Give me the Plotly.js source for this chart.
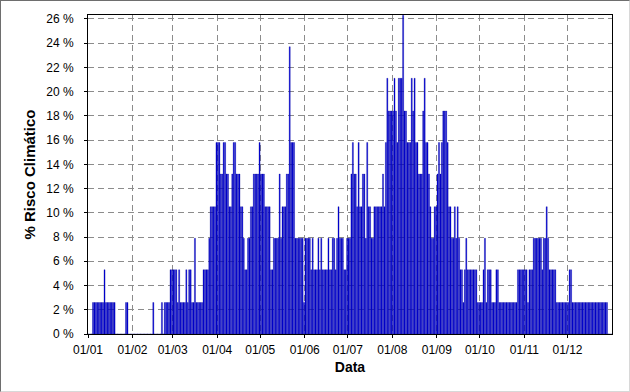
<!DOCTYPE html>
<html>
<head>
<meta charset="utf-8">
<script src="https://cdn.plot.ly/plotly-3.0.1.min.js"></script>
<style>
html,body{margin:0;padding:0;background:#fff;}
#wrap{width:630px;height:392px;box-sizing:border-box;border-top:1px solid #6e6e6e;border-left:1px solid #6e6e6e;border-right:1px solid #d8d8d8;border-bottom:1px solid #d8d8d8;overflow:hidden;}
#chart{width:628px;height:390px;}
</style>
</head>
<body>
<div id="wrap"><div id="chart"></div></div>
<script>
// Daily climatic risk (%) per month
const jan = [0,0,0,2.6,2.6,2.6,2.6,2.6,2.6,2.6,2.6,5.3,2.6,2.6,2.6,2.6,2.6,2.6,2.6,0,0,0,0,0,0,0,2.6,2.6,0,0,0];
const feb = [0,0,0,0,0,0,0,0,0,0,0,0,0,0,2.6,0,0,0,0,0,2.6,0,2.6,2.6,2.6,2.6,5.3,5.3];
const mar = [5.3,5.3,5.3,2.6,5.3,2.6,2.6,2.6,2.6,5.3,2.6,5.3,5.3,2.6,2.6,7.9,2.6,2.6,2.6,2.6,2.6,5.3,5.3,5.3,5.3,7.9,10.5,10.5,10.5,10.5,15.8];
const apr = [15.8,15.8,13.2,13.2,15.8,15.8,13.2,13.2,10.5,10.5,13.2,15.8,15.8,13.2,13.2,13.2,10.5,10.5,7.9,5.3,5.3,7.9,7.9,10.5,10.5,13.2,13.2,13.2,13.2,15.8];
const may = [13.2,13.2,13.2,10.5,10.5,10.5,10.5,5.3,5.3,7.9,7.9,7.9,7.9,13.2,7.9,10.5,10.5,10.5,13.2,13.2,23.7,15.8,15.8,15.8,7.9,7.9,7.9,7.9,7.9,7.9,2.6];
const jun = [7.9,7.9,7.9,7.9,5.3,7.9,5.3,5.3,5.3,7.9,5.3,7.9,5.3,5.3,5.3,5.3,7.9,5.3,5.3,7.9,7.9,5.3,7.9,10.5,7.9,7.9,7.9,5.3,5.3,7.9];
const jul = [7.9,7.9,13.2,15.8,13.2,13.2,10.5,15.8,10.5,10.5,13.2,13.2,7.9,15.8,10.5,10.5,7.9,7.9,10.5,10.5,10.5,10.5,10.5,10.5,13.2,10.5,15.8,21.1,18.4,18.4,18.4];
const aug = [18.4,21.1,18.4,15.8,21.1,21.1,21.1,26.3,18.4,18.4,15.8,15.8,15.8,21.1,18.4,21.1,15.8,15.8,13.2,13.2,13.2,18.4,21.1,15.8,15.8,13.2,10.5,7.9,7.9,10.5,10.5];
const sep = [13.2,15.8,13.2,15.8,18.4,18.4,18.4,15.8,10.5,10.5,7.9,7.9,10.5,7.9,10.5,7.9,5.3,5.3,2.6,5.3,7.9,5.3,5.3,5.3,5.3,5.3,5.3,5.3,2.6,2.6];
const oct = [2.6,2.6,5.3,7.9,2.6,5.3,5.3,5.3,2.6,2.6,2.6,5.3,5.3,2.6,2.6,2.6,2.6,2.6,2.6,2.6,2.6,2.6,2.6,2.6,2.6,2.6,5.3,5.3,5.3,5.3,5.3];
const nov = [5.3,5.3,2.6,5.3,5.3,5.3,7.9,7.9,7.9,7.9,7.9,7.9,5.3,7.9,7.9,10.5,7.9,5.3,5.3,5.3,5.3,5.3,2.6,2.6,2.6,2.6,2.6,2.6,2.6,2.6];
const dec = [2.6,5.3,5.3,2.6,2.6,2.6,2.6,2.6,2.6,2.6,2.6,2.6,2.6,2.6,2.6,2.6,2.6,2.6,2.6,2.6,2.6,2.6,2.6,2.6,2.6,2.6,2.6,2.6,0,0,0];

const monthLabels = ["01/01","01/02","01/03","01/04","01/05","01/06","01/07","01/08","01/09","01/10","01/11","01/12"];
const months = [jan,feb,mar,apr,may,jun,jul,aug,sep,oct,nov,dec];
const yTicks = [0,2,4,6,8,10,12,14,16,18,20,22,24,26];
const yLabels = ["0 %","2 %","4 %","6 %","8 %","10 %","12 %","14 %","16 %","18 %","20 %","22 %","24 %","26 %"];

const values = [].concat(...months);
const days = values.map((v,i)=>i+0.5);
const monthStarts = [];
let acc = 0;
months.forEach(m=>{monthStarts.push(acc); acc += m.length;});

const font = "'Liberation Sans', Arial, sans-serif";

Plotly.newPlot('chart', [{
  type:'bar', x: days, y: values,
  marker:{color:'#0000e0', line:{color:'#00008b', width:0.3}},
  hoverinfo:'x+y'
}], {
  width:628, height:390,
  margin:{l:87, r:17, t:14, b:57},
  paper_bgcolor:'#ffffff', plot_bgcolor:'#ffffff',
  bargap:0.25,
  showlegend:false,
  font:{family:font, size:12, color:'#000'},
  xaxis:{
    range:[0,365], tickmode:'array', tickvals:monthStarts, ticktext:monthLabels,
    showgrid:true, gridcolor:'#8c8c8c', griddash:'6px,4px', gridwidth:1,
    showline:true, mirror:true, linecolor:'#000', linewidth:1,
    ticks:'outside', ticklen:3, tickcolor:'#000', zeroline:false,
    ticklabelstandoff:2,
    tickfont:{family:font, size:12, color:'#000'},
    title:{text:'<b>Data</b>', font:{family:font, size:14, color:'#000'}, standoff:5}
  },
  yaxis:{
    range:[0,26.32], tickmode:'array', tickvals:yTicks, ticktext:yLabels,
    showgrid:true, gridcolor:'#8c8c8c', griddash:'6px,4px', gridwidth:1,
    showline:true, mirror:true, linecolor:'#000', linewidth:1,
    ticks:'outside', ticklen:3, tickcolor:'#000', zeroline:false,
    ticklabelstandoff:8,
    tickfont:{family:font, size:12, color:'#000'},
    title:{text:'<b>% Risco Climático</b>', font:{family:font, size:15, color:'#000'}, standoff:6}
  }
}, {displayModeBar:false, staticPlot:true});
</script>
</body>
</html>
